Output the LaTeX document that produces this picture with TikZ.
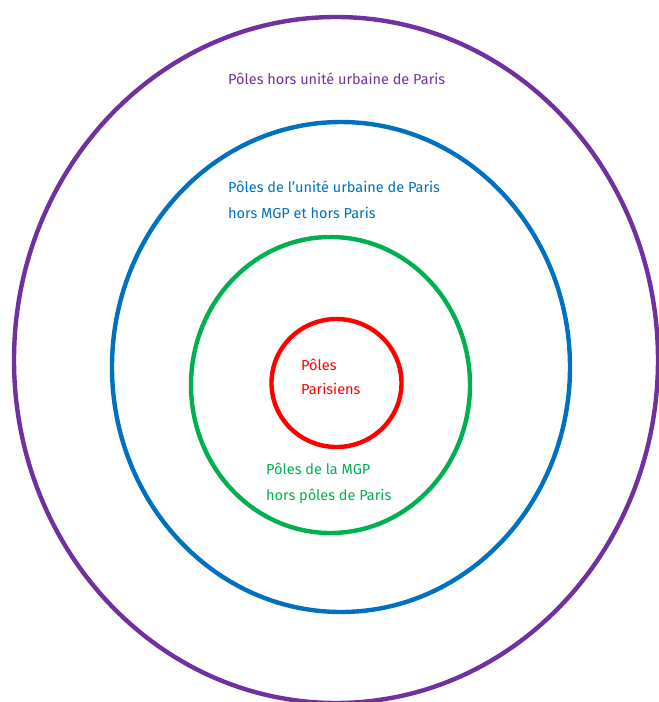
\documentclass[tikz,border=0pt]{standalone}
\usepackage{fontspec}
\setmainfont{Fira Sans}
\definecolor{polepurple}{RGB}{112,48,160}
\definecolor{poleblue}{RGB}{0,112,192}
\definecolor{polegreen}{RGB}{0,176,80}
\definecolor{polered}{RGB}{255,0,0}
\begin{document}
\begin{tikzpicture}[x=1pt, y=-1pt,
    ring/.style={line width=4.4pt},
    label/.style={anchor=base west, align=left, inner sep=0pt,
      font=\fontsize{14.5}{25.5}\selectfont}]
  \useasboundingbox (0,0) rectangle (659,702);
  \clip (0,0) rectangle (659,702);

  % --- 1. anneaux ---
  \draw[ring, polepurple] (336,360) ellipse [x radius=322, y radius=343];
  \draw[ring, poleblue] (341,367) ellipse [x radius=229, y radius=245];
  \draw[ring, polegreen] (330.5,385) ellipse [x radius=139.5, y radius=148];
  \draw[ring, polered] (336.5,383) ellipse [x radius=65, y radius=64];

  % --- 2. textes (ancre = ligne de base de la derniere ligne) ---
  \node[label, text=polepurple] (horsUU) at (228,84) {Pôles hors unité urbaine de Paris};
  \node[label, text=poleblue] (uuParis) at (228,218) {Pôles de l’unité urbaine de Paris\\hors MGP et hors Paris};
  \node[label, text=polegreen] (mgp) at (266,500) {Pôles de la MGP\\hors pôles de Paris};
  \node[label, text=polered] (paris) at (301,394) {Pôles\\[-2pt]Parisiens};

\end{tikzpicture}
\end{document}
